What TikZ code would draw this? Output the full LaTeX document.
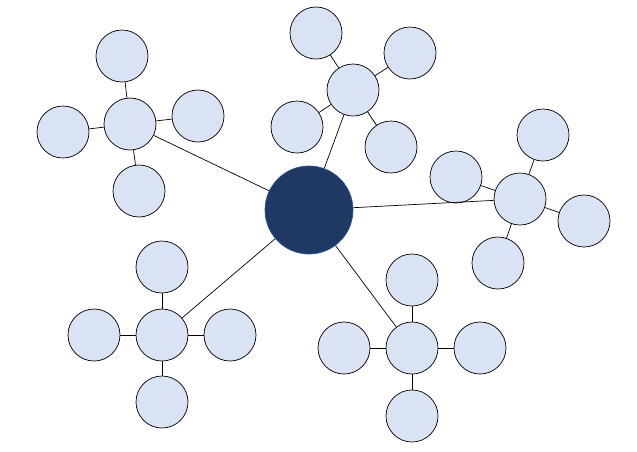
\documentclass[tikz,border=0pt]{standalone}
\definecolor{leaf}{HTML}{DAE3F3}
\definecolor{core}{HTML}{203864}
\definecolor{coreline}{HTML}{2F5597}
\begin{document}
\begin{tikzpicture}[x=1pt,y=-1pt,
    every node/.style={circle,draw=black,fill=leaf,line width=0.7pt,inner sep=0pt,minimum size=52pt},
    hub/.style={fill=core,draw=coreline,minimum size=88pt}]
      \useasboundingbox (0,0) rectangle (637,451);
      \draw
        (309,210) node[hub] (0){}
        (130,124) node (1){}
        (122,56) node (2){}
        (63,132) node (3){}
        (198,116) node (4){}
        (139,191) node (5){}
        (353,90) node (6){}
        (316,33) node (7){}
        (410,53) node (8){}
        (297,127) node (9){}
        (391,147) node (10){}
        (520,199) node (11){}
        (543,135) node (12){}
        (456,177) node (13){}
        (584,221) node (14){}
        (498,263) node (15){}
        (162,335) node (16){}
        (162,267) node (17){}
        (94,335) node (18){}
        (230,335) node (19){}
        (162,402) node (20){}
        (412,348) node (21){}
        (412,280) node (22){}
        (344,348) node (23){}
        (480,348) node (24){}
        (412,416) node (25){};
      \begin{scope}[-,line width=0.7pt]
        \draw (0) to (1);
        \draw (0) to (6);
        \draw (0) to (11);
        \draw (0) to (16);
        \draw (0) to (21);
        \draw (1) to (2);
        \draw (1) to (3);
        \draw (1) to (4);
        \draw (1) to (5);
        \draw (6) to (7);
        \draw (6) to (8);
        \draw (6) to (9);
        \draw (6) to (10);
        \draw (11) to (12);
        \draw (11) to (13);
        \draw (11) to (14);
        \draw (11) to (15);
        \draw (16) to (17);
        \draw (16) to (18);
        \draw (16) to (19);
        \draw (16) to (20);
        \draw (21) to (22);
        \draw (21) to (23);
        \draw (21) to (24);
        \draw (21) to (25);
      \end{scope}
    \end{tikzpicture}
\end{document}
